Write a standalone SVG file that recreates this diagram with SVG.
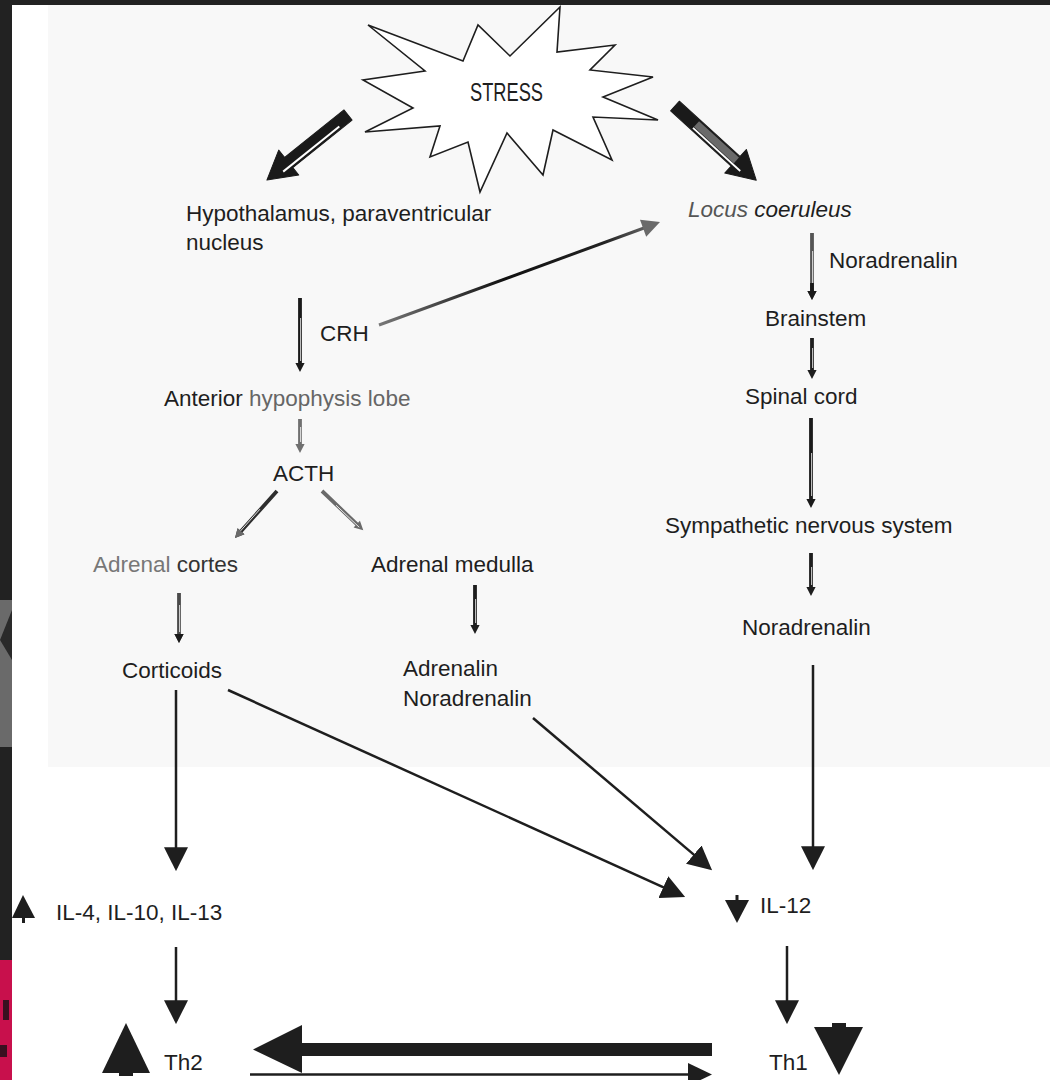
<svg xmlns="http://www.w3.org/2000/svg" width="1050" height="1080" viewBox="0 0 1050 1080">
<style>
text{font-family:"Liberation Sans",Arial,sans-serif;font-size:22.5px;fill:#1e1e1e}
.conn{stroke:#1e1e1e;stroke-width:2.5;fill:none}
.hl{stroke:#fff;stroke-width:0.8}
</style>
<defs>
<marker id="tri" markerUnits="userSpaceOnUse" markerWidth="24" markerHeight="24" viewBox="0 0 23 23" refX="20" refY="11.5" orient="auto">
<path d="M0,0 L23,11.5 L0,23 Z" fill="#1e1e1e"/>
</marker>
<linearGradient id="crhg" gradientUnits="userSpaceOnUse" x1="379" y1="325" x2="660" y2="222">
<stop offset="0" stop-color="#777"/>
<stop offset="0.45" stop-color="#111"/>
<stop offset="0.8" stop-color="#222"/>
<stop offset="1" stop-color="#777"/>
</linearGradient>
</defs>

<g id="background">
<rect width="1050" height="1080" fill="#fff"/>
<rect x="48" y="5" width="1002" height="762" fill="#f8f8f8"/>
<rect x="0" y="0" width="1050" height="5" fill="#222"/>
<rect x="0" y="0" width="12" height="1080" fill="#222"/>
<rect x="0" y="600" width="12" height="147" fill="#6a6a6a"/>
<path d="M0,640 L12,610 L12,660 Z" fill="#2a2a2a"/>
<rect x="0" y="960" width="12" height="120" fill="#c8104c"/>
<rect x="3" y="1000" width="6" height="20" fill="#3a1020"/>
<rect x="0" y="1045" width="7" height="12" fill="#3a1020"/>
</g>

<g id="stress">
<polygon points="560,7 557,52 615,45 590,70 653,77 603,97 658,120 593,117 612,160 553,130 543,175 507,133 480,192 468,142 430,157 440,126 365,132 413,108 363,80 425,71 368,25 463,61 478,25 510,56" fill="#fff" stroke="#1e1e1e" stroke-width="1.6" stroke-linejoin="miter"/>
<text x="470" y="101" style="font-size:25px" textLength="73" lengthAdjust="spacingAndGlyphs">STRESS</text>
</g>

<g id="hypothalamus">
<text x="186" y="221">Hypothalamus, paraventricular</text>
<text x="186" y="250">nucleus</text>
</g>
<g id="locus"><text x="688" y="217" font-style="italic"><tspan fill="#555">Locus</tspan> coeruleus</text></g>
<g id="label-noradrenalin-top"><text x="829" y="268" fill="#555">Noradrenalin</text></g>
<g id="brainstem"><text x="765" y="326">Brainstem</text></g>
<g id="spinal"><text x="745" y="404">Spinal cord</text></g>
<g id="sympathetic"><text x="665" y="533">Sympathetic nervous system</text></g>
<g id="noradrenalin-right"><text x="742" y="635">Noradrenalin</text></g>
<g id="label-crh"><text x="320" y="341" fill="#333">CRH</text></g>
<g id="anterior"><text x="164" y="406">Anterior <tspan fill="#666">hypophysis lobe</tspan></text></g>
<g id="acth"><text x="273" y="481" fill="#444">ACTH</text></g>
<g id="cortes"><text x="93" y="572"><tspan fill="#777">Adrenal</tspan><tspan fill="#333"> cortes</tspan></text></g>
<g id="medulla"><text x="371" y="572">Adrenal medulla</text></g>
<g id="corticoids"><text x="122" y="678">Corticoids</text></g>
<g id="adrenalin">
<text x="403" y="676">Adrenalin</text>
<text x="403" y="706">Noradrenalin</text>
</g>
<g id="il4">
<polygon points="23,895 35,918 12,918" fill="#1e1e1e"/>
<rect x="22" y="917" width="3" height="6" fill="#1e1e1e"/>
<text x="56" y="920">IL-4, IL-10, IL-13</text>
</g>
<g id="il12">
<polygon points="725,900 749,900 737,923" fill="#1e1e1e"/>
<rect x="735.5" y="895" width="3" height="6" fill="#1e1e1e"/>
<text x="760" y="913">IL-12</text>
</g>
<g id="th2">
<polygon points="126,1023 150,1073 102,1073" fill="#1e1e1e"/>
<rect x="119" y="1072" width="14" height="4" fill="#1e1e1e"/>
<text x="164" y="1070">Th2</text>
</g>
<g id="th1">
<polygon points="814,1027 863,1027 839,1075" fill="#1e1e1e"/>
<rect x="832" y="1023" width="14" height="5" fill="#1e1e1e"/>
<text x="769" y="1070">Th1</text>
</g>

<g id="connectors">
<g transform="translate(348,115) rotate(141.25)">
<path d="M0,-6.5 L76,-6.5 L76,-16 L104,0 L76,16 L76,6.5 L0,6.5 Z" fill="#1a1a1a" stroke="#1a1a1a" stroke-width="1" stroke-linejoin="round"/>
<line x1="14" y1="-3.6" x2="86" y2="-3.6" stroke="#fff" stroke-width="2"/>
</g>
<g transform="translate(675,106) rotate(42.4)">
<path d="M0,-6.5 L82,-6.5 L82,-16 L110,0 L82,16 L82,6.5 L0,6.5 Z" fill="#1a1a1a" stroke="#1a1a1a" stroke-width="1" stroke-linejoin="round"/>
<rect x="28" y="-5" width="54" height="7.5" fill="#6a6a6a"/>
<line x1="28" y1="4" x2="92" y2="4" stroke="#fff" stroke-width="1.8"/>
</g>
<line x1="379" y1="325" x2="644" y2="228" stroke="url(#crhg)" stroke-width="3"/>
<polygon points="660,222 646.2,236.7 640,219.8" fill="#6a6a6a"/>
<g transform="translate(300,298) rotate(90)"><path d="M0,-1.9 H65 V-4.6 L74,0 L65,4.6 V1.9 H0 Z" fill="#1a1a1a"/><line x1="20" y1="-0.6" x2="63" y2="-0.6" class="hl"/></g>
<g transform="translate(300,419) rotate(90)"><path d="M0,-1.9 H25 V-4.6 L34,0 L25,4.6 V1.9 H0 Z" fill="#707070"/><line x1="8" y1="-0.6" x2="23" y2="-0.6" class="hl"/></g>
<g transform="translate(277,491) rotate(131.8)"><path d="M0,-1.9 H54 V-4.6 L63,0 L54,4.6 V1.9 H0 Z" fill="#2e2e2e"/><line x1="25" y1="0.6" x2="60" y2="0.6" class="hl"/><path d="M54,-4.6 L63,0 L54,4.6 Z" fill="#6a6a6a"/></g>
<g transform="translate(322,491) rotate(43.6)"><path d="M0,-1.9 H48 V-4.6 L57,0 L48,4.6 V1.9 H0 Z" fill="#6a6a6a"/><line x1="20" y1="0.6" x2="52" y2="0.6" class="hl"/></g>
<g transform="translate(179,593) rotate(90)"><path d="M0,-1.9 H41 V-4.6 L50,0 L41,4.6 V1.9 H0 Z" fill="#4a4a4a"/><line x1="12" y1="-0.6" x2="39" y2="-0.6" class="hl"/><path d="M41,-4.6 L50,0 L41,4.6 Z" fill="#1a1a1a"/></g>
<g transform="translate(475,585) rotate(90)"><path d="M0,-1.9 H40 V-4.6 L49,0 L40,4.6 V1.9 H0 Z" fill="#1e1e1e"/><line x1="14" y1="-0.6" x2="38" y2="-0.6" class="hl"/></g>
<g transform="translate(812,233) rotate(90)"><path d="M0,-1.9 H58 V-4.6 L67,0 L58,4.6 V1.9 H0 Z" fill="#555"/><line x1="18" y1="-0.6" x2="56" y2="-0.6" class="hl"/><path d="M50,-1.9 H58 V-4.6 L67,0 L58,4.6 V1.9 H50 Z" fill="#1a1a1a"/></g>
<g transform="translate(812,338) rotate(90)"><path d="M0,-1.9 H32 V-4.6 L41,0 L32,4.6 V1.9 H0 Z" fill="#1e1e1e"/><line x1="10" y1="-0.6" x2="30" y2="-0.6" class="hl"/></g>
<g transform="translate(811,418) rotate(90)"><path d="M0,-1.9 H81 V-4.6 L90,0 L81,4.6 V1.9 H0 Z" fill="#1a1a1a"/><line x1="35" y1="-0.6" x2="78" y2="-0.6" class="hl"/></g>
<g transform="translate(811,553) rotate(90)"><path d="M0,-1.9 H34 V-4.6 L43,0 L34,4.6 V1.9 H0 Z" fill="#1e1e1e"/><line x1="14" y1="-0.6" x2="32" y2="-0.6" class="hl"/></g>
<line class="conn" x1="176" y1="690" x2="176" y2="868" marker-end="url(#tri)"/>
<line class="conn" x1="176" y1="947" x2="176" y2="1021" marker-end="url(#tri)"/>
<line class="conn" x1="228" y1="690" x2="682.3" y2="895.8" marker-end="url(#tri)"/>
<line class="conn" x1="533" y1="718" x2="709.7" y2="868.1" marker-end="url(#tri)"/>
<line class="conn" x1="813" y1="665" x2="813" y2="867" marker-end="url(#tri)"/>
<line class="conn" x1="787" y1="946" x2="787" y2="1021" marker-end="url(#tri)"/>
<path d="M712,1043 L302,1043 L302,1025 L253,1049.5 L302,1073 L302,1056 L712,1056 Z" fill="#1e1e1e"/>
<line x1="250" y1="1074.5" x2="692" y2="1074.5" stroke="#1e1e1e" stroke-width="2.5"/>
<polygon points="688,1063 712,1074.5 688,1086" fill="#1e1e1e"/>
</g>
</svg>
